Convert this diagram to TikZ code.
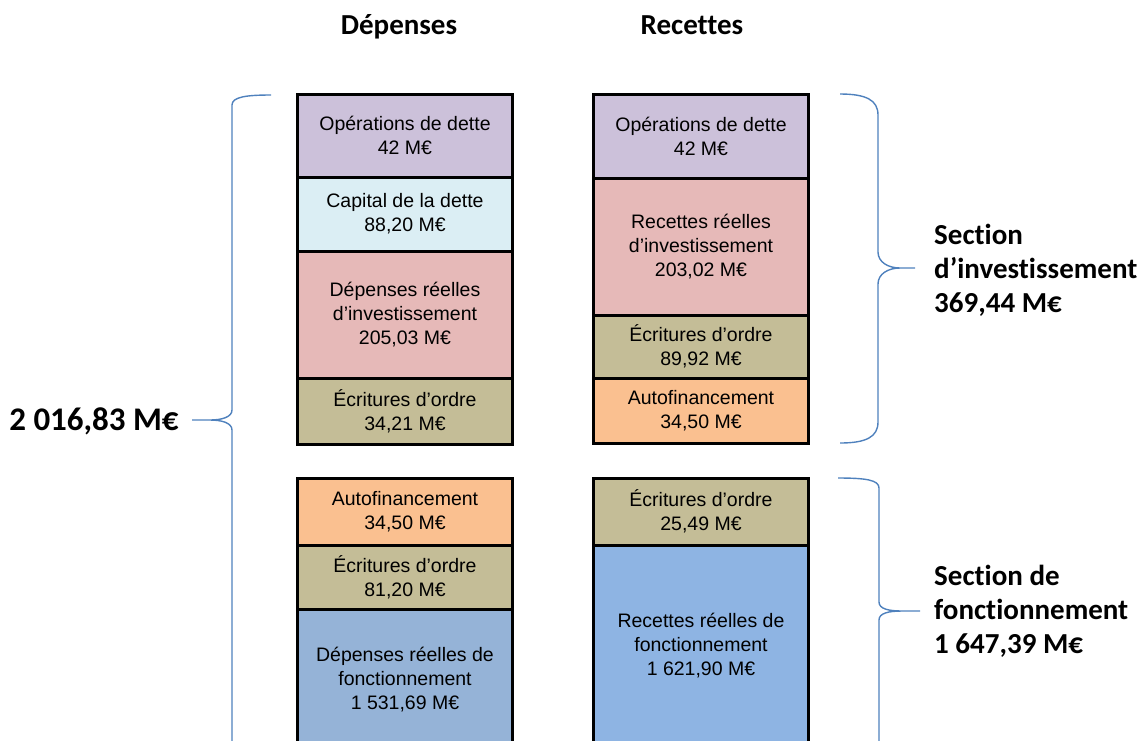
\documentclass[tikz,border=0pt]{standalone}
\usepackage{fontspec}
\setmainfont{Liberation Sans}
\newfontfamily\titrefont[Ligatures={NoCommon}]{Carlito}
\usetikzlibrary{positioning}
\definecolor{operations}{HTML}{CCC1DA}
\definecolor{capital}{HTML}{DBEEF4}
\definecolor{reelles}{HTML}{E6B9B8}
\definecolor{ordre}{HTML}{C4BD97}
\definecolor{autofin}{HTML}{FAC090}
\definecolor{fonctdep}{HTML}{95B3D7}
\definecolor{fonctrec}{HTML}{8EB4E3}
\definecolor{accolade}{HTML}{4F81BD}

\tikzset{
  poste/.style={draw=black, line width=3pt, minimum width=215pt, inner sep=0pt, outer sep=0pt,
    align=center, font=\fontsize{19.5}{24}\selectfont},
  titre/.style={inner sep=0pt, font=\titrefont\bfseries\fontsize{29}{34}\selectfont},
  section/.style={titre, align=left, anchor=west},
  brace/.style={draw=accolade, line width=1.4pt}
}

\begin{document}
\begin{tikzpicture}[x=1pt, y=-1pt]
  \clip (0,0) rectangle (1140,740);

  % En-tetes des colonnes
  \node[titre, anchor=base] (depenses) at (399,34) {Dépenses};
  \node[titre, anchor=base] (recettes) at (692,34) {Recettes};

  % Section d'investissement - depenses
  \node[poste, fill=operations, minimum height=83pt, anchor=north] (dopdette) at (405,94)
    {Opérations de dette\\42 M€};
  \node[poste, fill=capital, minimum height=74pt, below=0pt of dopdette] (dcapital)
    {Capital de la dette\\88,20 M€};
  \node[poste, fill=reelles, minimum height=127pt, below=0pt of dcapital] (dreelinv)
    {Dépenses réelles\\d’investissement\\205,03 M€};
  \node[poste, fill=ordre, minimum height=66pt, below=0pt of dreelinv] (dordreinv)
    {Écritures d’ordre\\34,21 M€};

  % Section d'investissement - recettes
  \node[poste, fill=operations, minimum height=84pt, anchor=north] (ropdette) at (701,94)
    {Opérations de dette\\42 M€};
  \node[poste, fill=reelles, minimum height=137pt, below=0pt of ropdette] (rreelinv)
    {Recettes réelles\\d’investissement\\203,02 M€};
  \node[poste, fill=ordre, minimum height=63pt, below=0pt of rreelinv] (rordreinv)
    {Écritures d’ordre\\89,92 M€};
  \node[poste, fill=autofin, minimum height=65pt, below=0pt of rordreinv] (rautofin)
    {Autofinancement\\34,50 M€};

  % Section de fonctionnement - depenses
  \node[poste, fill=autofin, minimum height=67pt, anchor=north] (dautofin) at (405,478)
    {Autofinancement\\34,50 M€};
  \node[poste, fill=ordre, minimum height=64pt, below=0pt of dautofin] (dordrefct)
    {Écritures d’ordre\\81,20 M€};
  \node[poste, fill=fonctdep, minimum height=142pt, below=0pt of dordrefct] (dreelfct)
    {Dépenses réelles de\\fonctionnement\\1 531,69 M€};

  % Section de fonctionnement - recettes
  \node[poste, fill=ordre, minimum height=67pt, anchor=north] (rordrefct) at (701,478)
    {Écritures d’ordre\\25,49 M€};
  \node[poste, fill=fonctrec, minimum height=202pt, below=0pt of rordrefct] (rreelfct)
    {Recettes réelles de\\fonctionnement\\1 621,90 M€};

  % Accolades
  \draw[brace] (271,95) .. controls (246,95) and (232,97) .. (232,105) -- (232,410)
    .. controls (232,417) and (222,420) .. (210,420) -- (192,420)
    -- (210,420) .. controls (222,420) and (232,423) .. (232,430) -- (232,750);
  \draw[brace] (840,94) .. controls (866,94) and (878,100) .. (878,115) -- (878,252)
    .. controls (878,262) and (888,268) .. (900,268) -- (915,268)
    -- (900,268) .. controls (888,268) and (878,274) .. (878,284) -- (878,422)
    .. controls (878,437) and (866,443) .. (840,443);
  \draw[brace] (838,478) .. controls (866,478) and (879,480) .. (879,488) -- (879,602)
    .. controls (879,609) and (889,611) .. (902,611) -- (920,611)
    -- (902,611) .. controls (889,611) and (879,613) .. (879,620) -- (879,750);

  % Totaux
  \node[titre, font=\titrefont\bfseries\fontsize{33}{38}\selectfont] (total) at (94,421) {2 016,83 M€};
  \node[section] (secinv) at (934,270) {Section\\d’investissement\\369,44 M€};
  \node[section] (secfct) at (934,611) {Section de\\fonctionnement\\1 647,39 M€};
\end{tikzpicture}
\end{document}
